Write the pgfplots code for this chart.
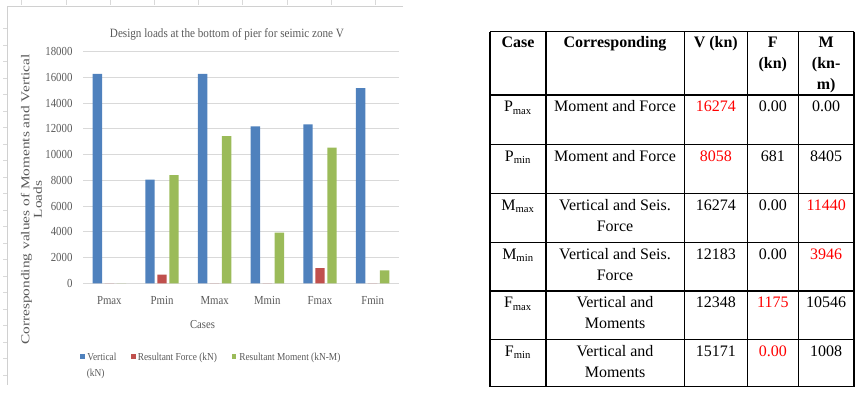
\documentclass[border=0pt]{standalone}
\usepackage{pgfplots}
\pgfplotsset{compat=1.18}
\usepackage{fontspec}
\setmainfont{Liberation Serif}
\newfontfamily\cf[FakeStretch=0.88]{Liberation Serif}
\newfontfamily\yf[FakeStretch=1.28]{Liberation Serif}
\definecolor{barblue}{HTML}{4F81BD}
\definecolor{barred}{HTML}{C0504D}
\definecolor{bargreen}{HTML}{9BBB59}
\definecolor{txtgray}{HTML}{595959}
\definecolor{gridgray}{HTML}{D9D9D9}
\definecolor{framegray}{HTML}{D0D0D0}
\newcommand\rd[1]{\textcolor{red}{#1}}
\begin{document}
\begin{tikzpicture}
\begin{axis}[
  at={(62.25pt,-212.5pt)}, anchor=south west, scale only axis,
  width=237pt, height=173.8pt,
  xmin=-0.5, xmax=5.5, ymin=0, ymax=18000,
  ytick={0,2000,...,18000},
  scaled y ticks=false,
  yticklabels={0,2000,4000,6000,8000,10000,12000,14000,16000,18000},
  xtick={0,...,5}, xticklabels={Pmax,Pmin,Mmax,Mmin,Fmax,Fmin},
  ybar=1.9pt, bar width=7.1pt,
  axis line style={draw=none},
  major tick length=0pt, tick style={draw=none},
  ymajorgrids, grid style={draw=gridgray, line width=0.75pt},
  xticklabel style={font=\cf\fontsize{9.2}{10}\selectfont, text=txtgray, yshift=-6pt},
  yticklabel style={font=\cf\fontsize{9.2}{10}\selectfont, text=txtgray, xshift=-4.4pt},
  clip=false,
]
\addplot[fill=barblue, draw=none] coordinates {(0,16274) (1,8058) (2,16274) (3,12183) (4,12348) (5,15171)};
\addplot[fill=barred, draw=none] coordinates {(0,0) (1,681) (2,0) (3,0) (4,1175) (5,0)};
\addplot[fill=bargreen, draw=none] coordinates {(0,0) (1,8405) (2,11440) (3,3946) (4,10546) (5,1008)};
\end{axis}
\begin{scope}[x=0.75pt,y=-0.75pt]
\path[use as bounding box] (0,0) rectangle (867,396);
% chart frame
\draw[framegray, line width=0.75pt] (403,6) -- (7,6) -- (7,385);
\foreach \xx in {21.7,65.9,110.1,154.3,198.5,242.7,286.9,331.1,375.3}
  \draw[gridgray, line width=0.5pt] (\xx,0) -- (\xx,5);
\foreach \yy in {28.5,45,61.5,78,94.5,111,127.5,144,160.5,177,193.5,210,226.5,243,259.5,276,292.5,309,325.5,342,358.5,375}
  \draw[gridgray, line width=0.5pt] (3,\yy) -- (6.5,\yy);
% titles
\node[anchor=base, text=txtgray, font=\cf\fontsize{9.5}{11}\selectfont, inner sep=0] at (227,37) {Design loads at the bottom of pier for seimic zone V};
\node[anchor=base, text=txtgray, font=\cf\fontsize{9.1}{11}\selectfont, inner sep=0] at (202.5,328) {Cases};
\node[rotate=90, align=center, text=txtgray, font=\yf\fontsize{9}{9.3}\selectfont, inner sep=0] at (31.5,199.5) {Corresponding values of Moments and Vertical\\Loads};
% legend
\fill[barblue] (80,353.5) rectangle (84.7,359.3);
\fill[barred] (131,353.5) rectangle (135.5,359.3);
\fill[bargreen] (231.7,353.5) rectangle (236.2,359.3);
\begin{scope}[every node/.style={anchor=base west, text=txtgray, font=\cf\fontsize{8}{9}\selectfont, inner sep=0}]
\node at (87,360.5) {Vertical};
\node at (86.5,376) {(kN)};
\node at (137.5,360.5) {Resultant Force (kN)};
\node at (239,360.5) {Resultant Moment (kN-M)};
\end{scope}
% table
\foreach \yy in {31.7,95,144.3,193.3,242.3,291,339.3,386.7}
  \draw[black, line width=0.8pt] (490,\yy) -- (854,\yy);
\foreach \xx in {490,546,684.3,747.3,798.3,854}
  \draw[black, line width=0.8pt] (\xx,31.7) -- (\xx,386.7);
\begin{scope}[every node/.style={anchor=base, inner sep=0, font=\fontsize{12}{14}\selectfont}]
\node[font=\bfseries\fontsize{12}{14}\selectfont] at (518,47.3) {Case};
\node[font=\bfseries\fontsize{12}{14}\selectfont] at (615,47.3) {Corresponding};
\node[font=\bfseries\fontsize{12}{14}\selectfont] at (715.8,47.3) {V (kn)};
\node[font=\bfseries\fontsize{12}{14}\selectfont] at (772.8,47.3) {F};
\node[font=\bfseries\fontsize{12}{14}\selectfont] at (772.8,68.3) {(kn)};
\node[font=\bfseries\fontsize{12}{14}\selectfont] at (826.2,47.3) {M};
\node[font=\bfseries\fontsize{12}{14}\selectfont] at (826.2,68.3) {(kn-};
\node[font=\bfseries\fontsize{12}{14}\selectfont] at (826.2,89.3) {m)};
% row 1
\node at (518,111.7) {P\textsubscript{max}};
\node at (615,111.7) {Moment and Force};
\node at (715.8,111.7) {\rd{16274}};
\node at (772.8,111.7) {0.00};
\node at (826.2,111.7) {0.00};
% row 2
\node at (518,161) {P\textsubscript{min}};
\node at (615,161) {Moment and Force};
\node at (715.8,161) {\rd{8058}};
\node at (772.8,161) {681};
\node at (826.2,161) {8405};
% row 3
\node at (518,210) {M\textsubscript{max}};
\node at (615,210) {Vertical and Seis.};
\node at (615,231) {Force};
\node at (715.8,210) {16274};
\node at (772.8,210) {0.00};
\node at (826.2,210) {\rd{11440}};
% row 4
\node at (518,259) {M\textsubscript{min}};
\node at (615,259) {Vertical and Seis.};
\node at (615,280) {Force};
\node at (715.8,259) {12183};
\node at (772.8,259) {0.00};
\node at (826.2,259) {\rd{3946}};
% row 5
\node at (518,307.7) {F\textsubscript{max}};
\node at (615,307.7) {Vertical and};
\node at (615,328.7) {Moments};
\node at (715.8,307.7) {12348};
\node at (772.8,307.7) {\rd{1175}};
\node at (826.2,307.7) {10546};
% row 6
\node at (518,356) {F\textsubscript{min}};
\node at (615,356) {Vertical and};
\node at (615,377) {Moments};
\node at (715.8,356) {15171};
\node at (772.8,356) {\rd{0.00}};
\node at (826.2,356) {1008};
\end{scope}
\end{scope}
\end{tikzpicture}
\end{document}
